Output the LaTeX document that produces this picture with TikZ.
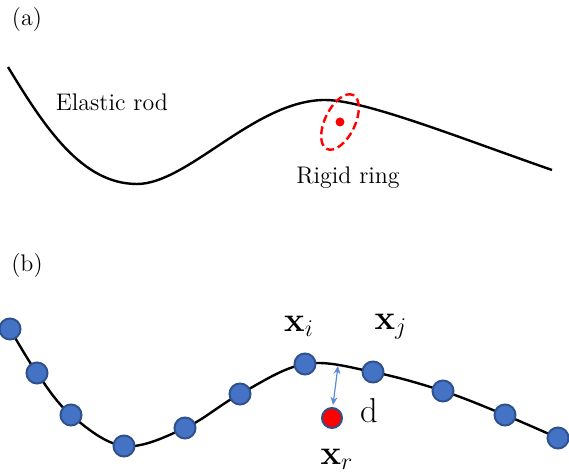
\documentclass[tikz,border=0pt]{standalone}
\usepackage{amsmath,amssymb}
\usetikzlibrary{shapes.geometric,arrows.meta}
\definecolor{bead}{HTML}{4472C4}
\definecolor{beadedge}{HTML}{2F528F}
\definecolor{arrowblue}{HTML}{5B8BD9}
\tikzset{
  rod/.style={line width=1.2pt, black},
  beadnode/.style={circle, fill=bead, draw=beadedge, line width=1pt, minimum size=10.5pt, inner sep=0pt},
  ringdot/.style={circle, fill=red, draw=beadedge, line width=1pt, minimum size=10pt, inner sep=0pt},
  lbl/.style={font=\large, inner sep=1pt},
  biglbl/.style={font=\LARGE, inner sep=1pt}
}
\begin{document}
\begin{tikzpicture}[x=0.5pt,y=-0.5pt]
\useasboundingbox (0,0) rectangle (569,474);
% (a)
\node[lbl] (la) at (27,20) {(a)};
\coordinate (a1) at (8,67);
\coordinate (a2) at (137,184);
\coordinate (a3) at (325,100);
\coordinate (a4) at (552,170);
\draw[rod] (a1) .. controls (45,128) and (82,184) .. (a2)
  .. controls (188,184) and (255,100) .. (a3)
  .. controls (365,100) and (460,138) .. (a4);
\node[lbl] (elastic) at (112,102) {Elastic rod};
\node[ellipse, draw=red, dash pattern=on 4pt off 2pt, line width=1.2pt, minimum width=30pt, minimum height=15pt, inner sep=0pt, rotate=64] (ring) at (340,122) {};
\node[circle, fill=red, minimum size=4.5pt, inner sep=0pt] (ringc) at (340,122) {};
\node[lbl] (rigid) at (348,178) {Rigid ring};
% (b)
\node[lbl] (lb) at (27,266) {(b)};
\coordinate (c1) at (10,329);
\coordinate (c2) at (37,373);
\coordinate (c3) at (71,415);
\coordinate (c4) at (124,446);
\coordinate (c5) at (185,428);
\coordinate (c6) at (240,394);
\coordinate (c7) at (305,364);
\coordinate (c8) at (373,372);
\coordinate (c9) at (443,391);
\coordinate (c10) at (505,415);
\coordinate (c11) at (558,438);
\draw[rod] plot[smooth, tension=0.6] coordinates {(c1) (c2) (c3) (c4) (c5) (c6) (c7) (c8) (c9) (c10) (c11)};
\foreach \i in {1,...,11} { \node[beadnode] (b\i) at (c\i) {}; }
\node[ringdot] (xr) at (332,418) {};
\coordinate (dtop) at (338,366);
\coordinate (dbot) at (333,405);
\draw[arrowblue, line width=0.6pt, {Stealth[length=4pt,width=3.5pt]}-{Stealth[length=4pt,width=3.5pt]}] (dtop) -- (dbot);
\node[biglbl] (xi) at (299,326) {$\mathbf{x}_i$};
\node[biglbl] (xj) at (391,327) {$\mathbf{x}_j$};
\node[biglbl] (d) at (369,411) {d};
\node[biglbl] (xrl) at (337,459) {$\mathbf{x}_r$};
\end{tikzpicture}
\end{document}
